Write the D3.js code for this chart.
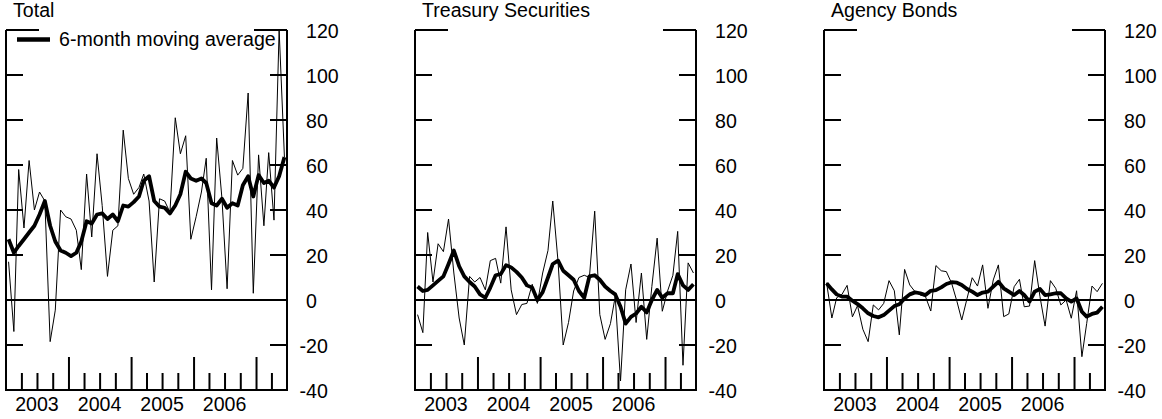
<!DOCTYPE html>
<html>
<head>
<meta charset="utf-8">
<script src="https://cdn.jsdelivr.net/npm/d3@7"></script>
<style>
  html, body { margin: 0; padding: 0; background: #fff; }
  svg { display: block; }
  text { font-family: "Liberation Sans", Arial, Helvetica, sans-serif; fill: #000; }
</style>
</head>
<body>
<svg id="chart" width="1162" height="419"></svg>
<script>
// ---- Data (monthly, Jan 2003 - Jun 2007) ----
const startMonth = "2003-01";
const monthCount = 54;

const panelTitles = ["Total", "Treasury Securities", "Agency Bonds"];
const yTickValues = [120, 100, 80, 60, 40, 20, 0, -20, -40];
const yearLabels = [2003, 2004, 2005, 2006];
const legendLabel = "6-month moving average";

const totalMonthly = [17, -14, 58, 32, 62, 40, 48, 44, -18.5, -4.5, 40, 37, 36, 31, 13.5, 56, 28, 65, 42, 10.5, 31, 33, 75.5, 54, 47, 50, 56, 44, 8, 45, 44, 39, 81, 65, 73, 27, 37, 48, 63, 4.5, 72, 45, 5, 62, 55.5, 58.5, 92, 3, 64.5, 33, 65.5, 35.5, 120, 63.5];
const totalMA = [27, 21, 24, 27, 30, 33, 38, 44, 33, 26, 22, 21, 19.5, 21, 26, 35, 34, 38, 38.5, 36, 38, 35, 42, 41.5, 43.5, 46, 53, 55, 44, 41.5, 41, 38.5, 42, 47, 57, 54, 53, 54, 52, 43, 42, 45, 41, 43, 42, 51, 55, 46, 55.5, 52, 53, 50, 55, 63.5];

const treasuryMonthly = [-6.5, -14.5, 30, 8, 25, 21.5, 36, 12, -8, -20, 10.5, 8, 10, 4.5, 17.5, 18.5, 7.5, 32.5, 4.5, -6.5, -2, -1.5, 7, -1.5, 12, 22, 44, 17, -20, -10, 4, 10, 11, 10, 39.5, -6.5, -17.5, -10.5, 1.5, -36, 4.5, 16, -10, 12, -17.5, 6, 27.5, -5, 4, 11, 30.5, -29, 16.5, 12];
const treasuryMA = [6, 4, 4.5, 6.5, 8.5, 10.5, 16, 22, 15, 10.5, 8, 6, 2.5, 1, 5.5, 11, 11.5, 15.5, 14.5, 12.5, 10, 6.5, 5.5, 0, 3.5, 10, 16, 17.5, 13, 11, 9, 4, 1, 10.5, 11, 9, 6, 4, 2.5, -3, -10.5, -7.5, -6, -3, -5.5, 0, 4.5, 1, 3, 3, 11.5, 6.5, 4.5, 7];

const agencyMonthly = [7.7, -8, 1, 2.5, 6.5, -7.5, -2.5, -13, -18.5, -2.2, -4.4, -1.5, 8.6, 4.1, -15.5, 13.6, 6.7, 3.7, 2.2, 1.5, -4.9, 15.3, 13, 12.6, 7.4, -0.7, -8.9, 0.7, 9.9, 6.2, 15.6, -3.7, 8.9, 15.6, -7.4, -6.2, 5.9, 9.2, -3, -2.7, 17.5, 1.5, -11.6, 8.6, 5.2, -2.2, 0, -8.1, 4.1, -25.2, -10.4, 6.2, 3.7, 7.4];
const agencyMA = [7.4, 4.7, 2.5, 1.5, 1.5, -0.3, -1.8, -3.7, -5.9, -7.1, -7.7, -6.7, -4.7, -2.7, -1.9, 0.7, 2.5, 3.4, 3, 2.2, 4.1, 4.4, 5.6, 7.1, 7.9, 7.7, 6.7, 4.9, 3.7, 2.2, 3.3, 3.7, 5.9, 8.1, 5.2, 3.7, 2.2, 4, 2.2, -0.7, 3.7, 4.9, 2.2, 2.5, 3, 3, 0.7, -0.7, 0.7, -5.2, -7.4, -6.2, -5.6, -3];

const panelMonthly = [totalMonthly, treasuryMonthly, agencyMonthly];
const panelMA = [totalMA, treasuryMA, agencyMA];

// ---- Layout ----
const svg = d3.select("#chart");
const panelLefts = [6, 415, 824];
const panelWidth = 281;
const plotTop = 30, plotBottom = 390;
const FS = 19.6;
const LW = 2;

const parseMonth = d3.timeParse("%Y-%m");
const firstMonth = parseMonth(startMonth);
const months = d3.range(monthCount).map(i => d3.timeMonth.offset(firstMonth, i));
const midMonth = d => new Date(d.getFullYear(), d.getMonth(), 16);
const domainStart = firstMonth;
const domainEnd = d3.timeMonth.offset(firstMonth, monthCount);

const y = d3.scaleLinear().domain([-40, 120]).range([plotBottom, plotTop]);

panelTitles.forEach((title, p) => {
  const left = panelLefts[p], right = left + panelWidth;
  const x = d3.scaleTime().domain([domainStart, domainEnd]).range([left, right]);
  const g = svg.append("g");

  g.append("text").attr("x", left + 7).attr("y", 17).attr("font-size", FS).text(title);

  // frame (left, bottom, right) and zero line
  g.append("path")
    .attr("d", `M${left},${y(120)}V${y(-40)}H${right}V${y(120)}M${left},${y(0)}H${right}`)
    .attr("fill", "none").attr("stroke", "#000").attr("stroke-width", LW);

  // inward horizontal ticks on both sides (120 drawn longer, as in the original)
  const yt = yTickValues.filter(v => v !== 0 && v !== -40);
  const tlen = v => v === 120 ? 33 : 17;
  g.selectAll(".tl").data(yt).join("rect")
    .attr("x", left).attr("y", v => y(v) - LW / 2).attr("width", tlen).attr("height", LW).attr("fill", "#000");
  g.selectAll(".tr").data(yt).join("rect")
    .attr("x", v => right - tlen(v)).attr("y", v => y(v) - LW / 2).attr("width", tlen).attr("height", LW).attr("fill", "#000");

  // right-side labels
  const lab = g.append("g").attr("transform", `translate(${right},0)`)
    .call(d3.axisRight(y).tickValues(yTickValues).tickSize(0).tickPadding(19).tickFormat(v => String(v)));
  lab.select(".domain").remove();
  lab.attr("font-family", null).attr("font-size", null);
  lab.selectAll("text").attr("font-size", FS)
    .attr("dx", v => v < 0 ? -6.5 : 0).attr("dy", "0.36em");

  // x ticks from bottom: quarterly minor, annual major
  const qTicks = d3.timeMonth.every(3).range(d3.timeMonth.offset(domainStart, 1), domainEnd);
  const xa = g.append("g").attr("transform", `translate(0,${plotBottom})`)
    .call(d3.axisBottom(x).tickValues(qTicks).tickSize(-17).tickFormat(""));
  xa.select(".domain").remove();
  xa.selectAll(".tick line").attr("stroke", "#000").attr("stroke-width", LW)
    .attr("y2", v => v.getMonth() === 0 ? -33 : -17);

  g.selectAll(".yr").data(yearLabels).join("text")
    .attr("x", v => x(new Date(v, 6, 1)))
    .attr("y", 410.5).attr("text-anchor", "middle").attr("font-size", FS).text(v => v);

  const line = d3.line().x((v, i) => x(midMonth(months[i]))).y(v => y(v));
  g.append("path").datum(panelMonthly[p]).attr("d", line)
    .attr("fill", "none").attr("stroke", "#000").attr("stroke-width", 1).attr("stroke-linejoin", "miter");
  g.append("path").datum(panelMA[p]).attr("d", line)
    .attr("fill", "none").attr("stroke", "#000").attr("stroke-width", 3.8).attr("stroke-linejoin", "round");

  if (p === 0) {
    g.append("line").attr("x1", left + 11).attr("x2", left + 44).attr("y1", 39.5).attr("y2", 39.5)
      .attr("stroke", "#000").attr("stroke-width", 4.5);
    g.append("text").attr("x", left + 53).attr("y", 46).attr("font-size", FS).text(legendLabel);
  }
});
</script>
</body>
</html>
